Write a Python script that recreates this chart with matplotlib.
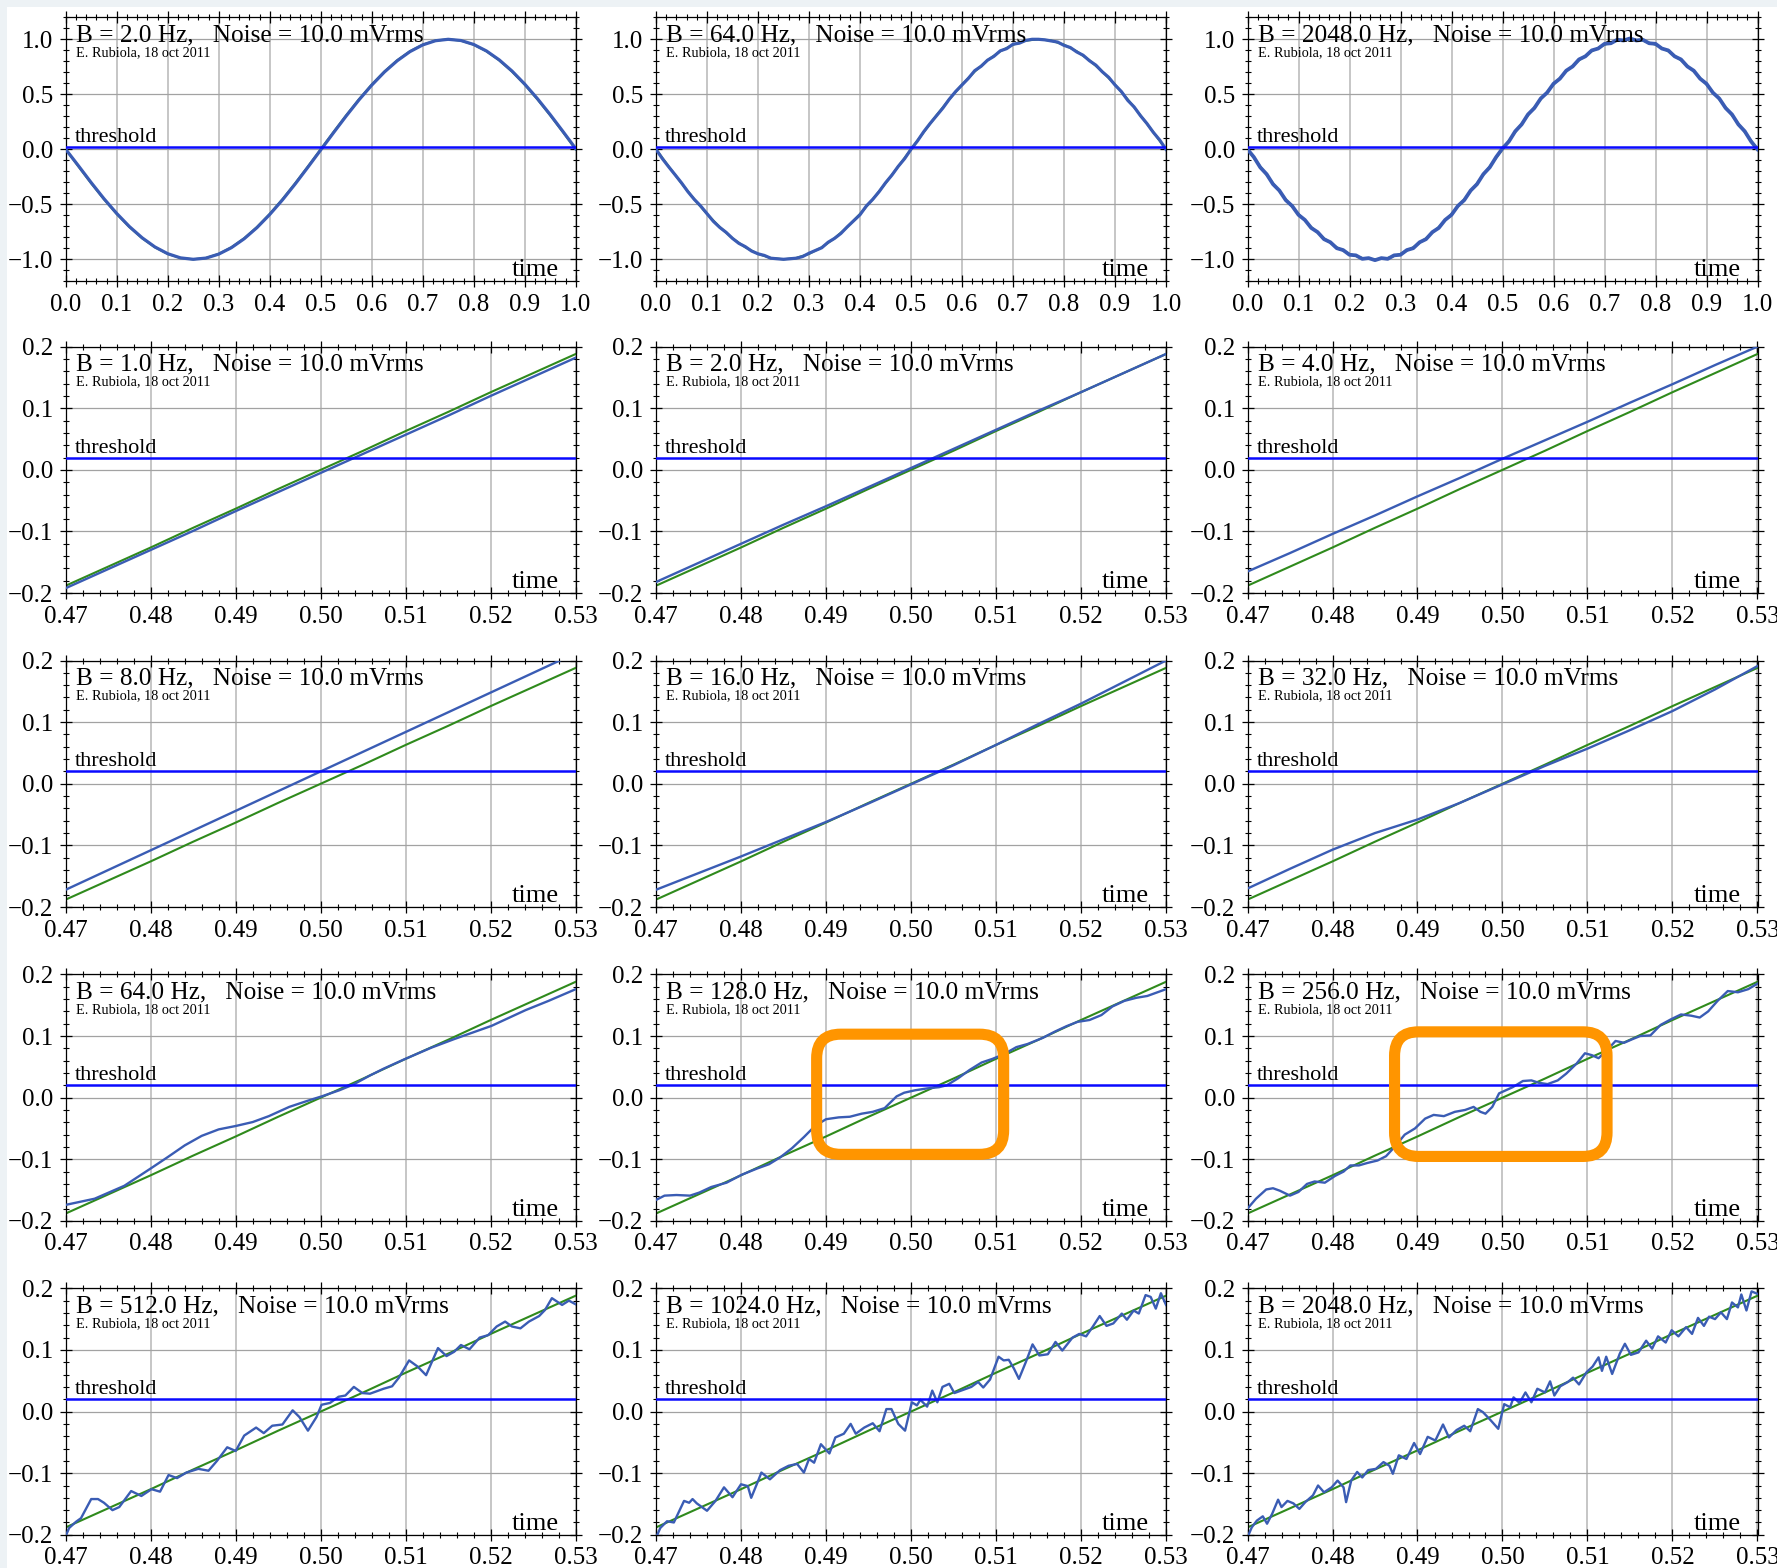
import numpy as np
import matplotlib.pyplot as plt
from matplotlib.patches import FancyBboxPatch, Rectangle
from matplotlib.ticker import MultipleLocator, FuncFormatter

plt.rcParams['font.family'] = ['Liberation Serif', 'DejaVu Serif']

# ---- data ----
threshold = 0.02

# top row: one full period, 0..1
t41 = np.linspace(0, 1, 41)
t81 = np.linspace(0, 1, 81)
green_sine = [0.0, -0.156, -0.309, -0.454, -0.588, -0.707, -0.809, -0.891, -0.951, -0.988, -1.0,
              -0.988, -0.951, -0.891, -0.809, -0.707, -0.588, -0.454, -0.309, -0.156, 0.0,
              0.156, 0.309, 0.454, 0.588, 0.707, 0.809, 0.891, 0.951, 0.988, 1.0,
              0.988, 0.951, 0.891, 0.809, 0.707, 0.588, 0.454, 0.309, 0.156, 0.0]
blue_sine_2 = [0.0, -0.150, -0.303, -0.449, -0.583, -0.703, -0.805, -0.888, -0.949, -0.987, -1.0,
               -0.989, -0.953, -0.894, -0.813, -0.712, -0.593, -0.460, -0.315, -0.162, -0.006,
               0.150, 0.303, 0.449, 0.583, 0.703, 0.805, 0.888, 0.949, 0.987, 1.0,
               0.989, 0.953, 0.894, 0.813, 0.712, 0.593, 0.460, 0.315, 0.162, 0.006]
blue_sine_64 = [0, -.085, -.16, -.232, -.305, -.385, -.455, -.515, -.585, -.655, -.71, -.755, -.81, -.855,
                -.885, -.925, -.95, -.965, -.99, -.995, -1.0, -.995, -.99, -.975, -.945, -.92, -.895,
                -.845, -.81, -.765, -.705, -.65, -.595, -.515, -.455, -.385, -.305, -.235, -.155, -.085,
                0, .075, .16, .235, .305, .375, .455, .525, .585, .645, .715, .755, .81, .845, .895,
                .915, .955, .965, .99, 1.0, 1.0, .995, .985, .975, .945, .925, .885, .855, .805, .765,
                .705, .655, .585, .525, .445, .385, .305, .235, .155, .085, 0]
blue_sine_2048 = [0, -.071, -.164, -.226, -.317, -.375, -.462, -.515, -.596, -.642, -.715, -.753, -.817,
                  -.845, -.899, -.916, -.959, -.964, -.996, -.989, -1.008, -.989, -.996, -.964, -.959,
                  -.916, -.899, -.845, -.817, -.753, -.715, -.642, -.596, -.515, -.462, -.375, -.317,
                  -.226, -.164, -.071, .008, .071, .164, .226, .317, .375, .462, .515, .596, .642, .715,
                  .753, .817, .845, .899, .916, .959, .964, .996, .989, 1.008, .989, .996, .964, .959,
                  .916, .899, .845, .817, .753, .715, .642, .596, .515, .462, .375, .317, .226, .164,
                  .071, 0]

# zoomed rows: 0.47..0.53
x13 = np.linspace(0.47, 0.53, 13)
green_zoom = [-0.188, -0.157, -0.126, -0.094, -0.063, -0.031, 0.0, 0.031, 0.063, 0.094, 0.126, 0.157, 0.188]
blue_1 = [-0.192, -0.161, -0.130, -0.099, -0.067, -0.036, -0.005, 0.026, 0.057, 0.088, 0.120, 0.151, 0.182]
blue_2 = [-0.182, -0.151, -0.120, -0.089, -0.059, -0.028, 0.003, 0.034, 0.065, 0.096, 0.126, 0.157, 0.188]
blue_4 = [-0.165, -0.135, -0.104, -0.074, -0.043, -0.013, 0.018, 0.048, 0.078, 0.109, 0.139, 0.170, 0.200]
blue_8 = [-0.172, -0.140, -0.108, -0.076, -0.044, -0.012, 0.020, 0.052, 0.084, 0.116, 0.148, 0.180, 0.212]
blue_16 = [-0.172, -0.145, -0.118, -0.090, -0.062, -0.032, -0.001, 0.030, 0.063, 0.097, 0.130, 0.165, 0.200]
blue_32 = [-0.170, -0.138, -0.107, -0.080, -0.058, -0.031, -0.001, 0.029, 0.057, 0.087, 0.118, 0.153, 0.191]

x_64 = [0.470, 0.4734, 0.4769, 0.4801, 0.482, 0.484, 0.486, 0.488, 0.490, 0.492, 0.4939, 0.4963, 0.4987,
        0.5001, 0.5022, 0.5038, 0.5058, 0.5074, 0.5098, 0.513, 0.5157, 0.5201, 0.5241, 0.5268, 0.530]
blue_64 = [-0.174, -0.164, -0.143, -0.114, -0.0965, -0.0775, -0.062, -0.0515, -0.046, -0.0396, -0.030,
           -0.015, -0.004, 0.002, 0.012, 0.021, 0.036, 0.047, 0.062, 0.081, 0.095, 0.1165, 0.142, 0.157, 0.176]

x_128 = [0.470, 0.471, 0.4724, 0.474, 0.4751, 0.4765, 0.4783, 0.4801, 0.4819, 0.4833, 0.4846, 0.486,
         0.4874, 0.4887, 0.490, 0.4915, 0.4928, 0.4942, 0.4955, 0.4969, 0.4983, 0.4992, 0.5005, 0.5019,
         0.5033, 0.5042, 0.5055, 0.5069, 0.5083, 0.5096, 0.511, 0.5124, 0.5137, 0.5155, 0.5169, 0.5183,
         0.5196, 0.521, 0.5224, 0.5237, 0.5251, 0.5265, 0.5278, 0.530]
blue_128 = [-0.166, -0.159, -0.158, -0.159, -0.154, -0.145, -0.138, -0.125, -0.115, -0.108, -0.097, -0.082,
            -0.064, -0.046, -0.035, -0.032, -0.031, -0.026, -0.023, -0.017, 0.002, 0.008, 0.012, 0.015,
            0.017, 0.020, 0.031, 0.045, 0.057, 0.063, 0.071, 0.082, 0.087, 0.097, 0.107, 0.116,
            0.123, 0.126, 0.134, 0.148, 0.157, 0.162, 0.165, 0.176]

x_256 = [0.470, 0.471, 0.4722, 0.473, 0.4738, 0.475, 0.476, 0.477, 0.4779, 0.4791, 0.4803, 0.4813, 0.4821,
         0.4831, 0.4841, 0.4853, 0.4863, 0.4873, 0.4885, 0.4897, 0.4909, 0.4919, 0.4931, 0.4944, 0.4956,
         0.4966, 0.4974, 0.498, 0.4988, 0.4996, 0.5004, 0.5012, 0.5024, 0.5034, 0.5043, 0.5053, 0.5065,
         0.5075, 0.5087, 0.5097, 0.5105, 0.5113, 0.5123, 0.5133, 0.5143, 0.5153, 0.5162, 0.5174, 0.5186,
         0.5198, 0.521, 0.5222, 0.5232, 0.5242, 0.5253, 0.5265, 0.5277, 0.5289, 0.530]
blue_256 = [-0.180, -0.164, -0.149, -0.147, -0.151, -0.159, -0.153, -0.140, -0.136, -0.138, -0.127, -0.120,
            -0.110, -0.110, -0.106, -0.102, -0.095, -0.080, -0.060, -0.050, -0.034, -0.028, -0.030, -0.023,
            -0.020, -0.015, -0.023, -0.026, -0.015, 0.007, 0.012, 0.017, 0.027, 0.028, 0.024, 0.022, 0.028,
            0.039, 0.055, 0.072, 0.069, 0.064, 0.077, 0.092, 0.089, 0.095, 0.100, 0.101, 0.118,
            0.127, 0.135, 0.133, 0.130, 0.140, 0.157, 0.173, 0.171, 0.176, 0.185]

x_512 = [0.470, 0.4704, 0.4712, 0.4718, 0.473, 0.4738, 0.4745, 0.4755, 0.4763, 0.4777, 0.4789, 0.4801,
         0.4811, 0.4821, 0.4831, 0.4842, 0.4856, 0.4868, 0.4878, 0.489, 0.490, 0.491, 0.4924, 0.4933,
         0.4943, 0.4955, 0.4967, 0.4975, 0.4985, 0.4995, 0.5001, 0.5011, 0.5021, 0.5029, 0.5039, 0.5049,
         0.5058, 0.5074, 0.5084, 0.5092, 0.5104, 0.5114, 0.5124, 0.513, 0.5138, 0.5148, 0.5157, 0.5165,
         0.5175, 0.5187, 0.5197, 0.5207, 0.5217, 0.5225, 0.5235, 0.5245, 0.5257, 0.5264, 0.5272, 0.5284,
         0.5292, 0.530]
blue_512 = [-0.202, -0.189, -0.179, -0.173, -0.142, -0.142, -0.148, -0.160, -0.155, -0.129, -0.137, -0.126,
            -0.130, -0.103, -0.108, -0.099, -0.093, -0.096, -0.080, -0.058, -0.064, -0.039, -0.026, -0.035,
            -0.023, -0.021, 0.002, -0.009, -0.031, -0.009, 0.011, 0.014, 0.024, 0.026, 0.040, 0.030,
            0.029, 0.037, 0.041, 0.055, 0.083, 0.073, 0.059, 0.078, 0.103, 0.090, 0.097, 0.108,
            0.101, 0.120, 0.124, 0.138, 0.146, 0.138, 0.135, 0.146, 0.155, 0.165, 0.184, 0.173,
            0.180, 0.174]

x_1024 = [0.470, 0.4705, 0.4713, 0.4721, 0.4733, 0.4739, 0.4743, 0.4748, 0.476, 0.477, 0.478, 0.479, 0.480,
          0.4808, 0.4812, 0.482, 0.4824, 0.4834, 0.4846, 0.4856, 0.4866, 0.4874, 0.488, 0.4886, 0.4894,
          0.4904, 0.4911, 0.4921, 0.4929, 0.4935, 0.4945, 0.4955, 0.4963, 0.4971, 0.4977, 0.4985, 0.4993,
          0.5001, 0.5007, 0.5011, 0.5019, 0.5025, 0.5031, 0.5037, 0.5045, 0.5051, 0.5059, 0.5071, 0.5079,
          0.5085, 0.5093, 0.5103, 0.5109, 0.5115, 0.5121, 0.5127, 0.5135, 0.5143, 0.5151, 0.5161, 0.517,
          0.5178, 0.519, 0.5198, 0.5206, 0.5214, 0.5222, 0.523, 0.5238, 0.5248, 0.5254, 0.5262, 0.5268,
          0.5276, 0.5282, 0.5288, 0.5294, 0.530]
blue_1024 = [-0.205, -0.189, -0.178, -0.180, -0.145, -0.148, -0.142, -0.149, -0.161, -0.145, -0.123, -0.139,
             -0.118, -0.121, -0.140, -0.113, -0.099, -0.110, -0.095, -0.088, -0.085, -0.099, -0.077, -0.083,
             -0.053, -0.068, -0.042, -0.036, -0.020, -0.036, -0.026, -0.019, -0.032, 0.004, 0.004, -0.020,
             -0.031, 0.015, 0.010, 0.019, 0.008, 0.034, 0.015, 0.040, 0.045, 0.030, 0.034, 0.040, 0.048,
             0.039, 0.052, 0.089, 0.083, 0.084, 0.070, 0.053, 0.080, 0.109, 0.091, 0.093, 0.113,
             0.099, 0.120, 0.126, 0.122, 0.138, 0.155, 0.139, 0.143, 0.159, 0.149, 0.164, 0.159,
             0.189, 0.186, 0.167, 0.192, 0.173]

x_2048 = [0.4700, 0.4705, 0.4711, 0.4718, 0.4723, 0.4729, 0.4736, 0.474, 0.4747, 0.4754, 0.4761, 0.4768,
          0.4777, 0.4783, 0.479, 0.4799, 0.4806, 0.4813, 0.4816, 0.4822, 0.4829, 0.4835, 0.4842, 0.4851,
          0.486, 0.4867, 0.4871, 0.4878, 0.4887, 0.4896, 0.4903, 0.4912, 0.4921, 0.493, 0.4937, 0.4946,
          0.4955, 0.4962, 0.4971, 0.4977, 0.4986, 0.4995, 0.5002, 0.5009, 0.5013, 0.502, 0.5027, 0.5034,
          0.5041, 0.505, 0.5056, 0.5061, 0.5068, 0.5077, 0.5083, 0.509, 0.5099, 0.5106, 0.5113, 0.5117,
          0.5122, 0.5129, 0.5138, 0.5144, 0.5151, 0.516, 0.5169, 0.5176, 0.5183, 0.5192, 0.5199, 0.5207,
          0.5216, 0.5223, 0.523, 0.5237, 0.5243, 0.525, 0.5257, 0.5264, 0.527, 0.5277, 0.5281, 0.5287,
          0.5293, 0.530]
blue_2048 = [-0.204, -0.188, -0.177, -0.170, -0.182, -0.166, -0.143, -0.155, -0.145, -0.149, -0.158, -0.147,
             -0.136, -0.120, -0.131, -0.123, -0.112, -0.123, -0.147, -0.112, -0.098, -0.107, -0.095, -0.093,
             -0.082, -0.088, -0.101, -0.071, -0.077, -0.051, -0.069, -0.041, -0.047, -0.021, -0.042, -0.030,
             -0.023, -0.032, 0.004, -0.001, -0.014, -0.028, 0.012, 0.007, 0.023, 0.014, 0.031, 0.015,
             0.037, 0.031, 0.049, 0.026, 0.041, 0.048, 0.055, 0.044, 0.064, 0.073, 0.088, 0.066,
             0.089, 0.061, 0.094, 0.110, 0.092, 0.096, 0.115, 0.102, 0.122, 0.112, 0.132, 0.122,
             0.137, 0.126, 0.152, 0.139, 0.154, 0.150, 0.161, 0.150, 0.177, 0.169, 0.190, 0.164,
             0.195, 0.191]

# (row, col, bandwidth, x_green, y_green, x_blue, y_blue)
panels = [
    (0, 0, 2.0, t41, green_sine, t41, blue_sine_2),
    (0, 1, 64.0, t41, green_sine, t81, blue_sine_64),
    (0, 2, 2048.0, t41, green_sine, t81, blue_sine_2048),
    (1, 0, 1.0, x13, green_zoom, x13, blue_1),
    (1, 1, 2.0, x13, green_zoom, x13, blue_2),
    (1, 2, 4.0, x13, green_zoom, x13, blue_4),
    (2, 0, 8.0, x13, green_zoom, x13, blue_8),
    (2, 1, 16.0, x13, green_zoom, x13, blue_16),
    (2, 2, 32.0, x13, green_zoom, x13, blue_32),
    (3, 0, 64.0, x13, green_zoom, x_64, blue_64),
    (3, 1, 128.0, x13, green_zoom, x_128, blue_128),
    (3, 2, 256.0, x13, green_zoom, x_256, blue_256),
    (4, 0, 512.0, x13, green_zoom, x_512, blue_512),
    (4, 1, 1024.0, x13, green_zoom, x_1024, blue_1024),
    (4, 2, 2048.0, x13, green_zoom, x_2048, blue_2048),
]

# orange highlight boxes (x0, y0, x1, y1) on the 128 Hz and 256 Hz panels
highlights = {(3, 1): (0.4889, -0.092, 0.5109, 0.103),
              (3, 2): (0.4873, -0.0954, 0.5123, 0.1068)}

# ---- layout (pixels) ----
W, H = 1777, 1568
col_left = [65.7, 656.0, 1247.5]
ax_w = 510
row_top = [17.3, 346.6, 660.5, 974.4, 1288.3]
row_h = [264, 246.5, 246.5, 246.5, 246.5]

GREEN = '#2f8a1c'
BLUE = '#3a5cb4'
THRESH = '#0a0aff'


def fmt(decimals):
    def f(v, pos):
        if abs(v) < 1e-9:
            v = 0.0
        return f'{v:.{decimals}f}'.replace('-', '\u2212')
    return FuncFormatter(f)


fig = plt.figure(figsize=(W / 100, H / 100), dpi=100)
fig.patch.set_facecolor('#edf2f5')
fig.add_artist(Rectangle((7 / W, 0), 1, 1 - 7 / H, transform=fig.transFigure,
                         facecolor='white', edgecolor='none', zorder=-10))

for row, col, B, xg, yg, xb, yb in panels:
    left = col_left[col] / W
    bottom = 1 - (row_top[row] + row_h[row]) / H
    ax = fig.add_axes([left, bottom, ax_w / W, row_h[row] / H])
    ax.set_axisbelow(True)

    if row == 0:
        ax.set_xlim(0, 1)
        ax.set_ylim(-1.2, 1.2)
        ax.xaxis.set_major_locator(MultipleLocator(0.1))
        ax.xaxis.set_minor_locator(MultipleLocator(0.02))
        ax.yaxis.set_major_locator(MultipleLocator(0.5))
        ax.yaxis.set_minor_locator(MultipleLocator(0.1))
        ax.xaxis.set_major_formatter(fmt(1))
        blue_lw = 2.7 if B > 1000 else 2.3
    else:
        ax.set_xlim(0.47, 0.53)
        ax.set_ylim(-0.2, 0.2)
        ax.xaxis.set_major_locator(MultipleLocator(0.01))
        ax.xaxis.set_minor_locator(MultipleLocator(0.002))
        ax.yaxis.set_major_locator(MultipleLocator(0.1))
        ax.yaxis.set_minor_locator(MultipleLocator(0.02))
        ax.xaxis.set_major_formatter(fmt(2))
        blue_lw = 1.7
    ax.yaxis.set_major_formatter(fmt(1))

    ax.xaxis.grid(True, which='major', color='#c6c6c6', lw=1.4)
    ax.yaxis.grid(True, which='major', color='#a2a2a2', lw=0.9)

    ax.plot(xg, yg, color=GREEN, lw=1.5, zorder=2)
    ax.plot(xb, yb, color=BLUE, lw=blue_lw, zorder=3, solid_joinstyle='round')
    ax.axhline(threshold, color=THRESH, lw=1.8, zorder=4)

    ax.tick_params(which='both', direction='inout', top=True, right=True,
                   labelsize=18, color='black', pad=5)
    ax.tick_params(which='major', length=8, width=0.9)
    ax.tick_params(which='minor', length=4, width=0.8)
    for s in ax.spines.values():
        s.set_color('black')
        s.set_linewidth(0.9)

    ax.annotate(f'B = {B:.1f} Hz,   Noise = 10.0 mVrms', xy=(0, 1), xycoords='axes fraction',
                xytext=(10, -24), textcoords='offset pixels', ha='left', va='baseline', fontsize=18.2)
    ax.annotate('E. Rubiola, 18 oct 2011', xy=(0, 1), xycoords='axes fraction',
                xytext=(10, -39), textcoords='offset pixels', ha='left', va='baseline', fontsize=10.3)
    ax.annotate('threshold', xy=(0, threshold), xycoords=ax.get_yaxis_transform(),
                xytext=(9, 5), textcoords='offset pixels', ha='left', va='baseline', fontsize=16)
    ax.annotate('time', xy=(1, 0), xycoords='axes fraction',
                xytext=(-17, 5), textcoords='offset pixels', ha='right', va='baseline', fontsize=19)

    if (row, col) in highlights:
        x0, y0, x1, y1 = highlights[(row, col)]
        px_x = 0.06 / ax_w
        px_y = 0.4 / row_h[row]
        box = FancyBboxPatch((x0, y0), x1 - x0, y1 - y0,
                             boxstyle=f'round,pad=0,rounding_size={24 * px_x}',
                             mutation_aspect=px_y / px_x, transform=ax.transData,
                             fill=False, edgecolor='#ff9500', lw=8, zorder=6, clip_on=False)
        ax.add_patch(box)

fig.savefig('out.png', dpi=100, facecolor=fig.get_facecolor())
